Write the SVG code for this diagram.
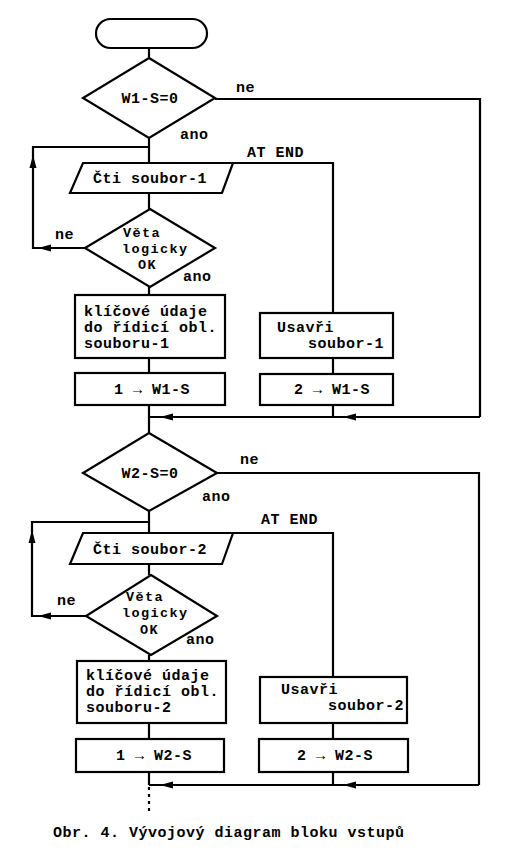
<svg xmlns="http://www.w3.org/2000/svg" xmlns:xlink="http://www.w3.org/1999/xlink" width="514" height="862" viewBox="0 0 514 862">
<style>
.s{fill:#fff;stroke:#000;stroke-width:2.2;stroke-linejoin:miter}
.c{fill:none;stroke:#000;stroke-width:2.2}
.d{fill:none;stroke:#000;stroke-width:2.2;stroke-dasharray:3,4}
text{font-family:"Liberation Mono","DejaVu Sans Mono",monospace;font-weight:bold;font-size:15px;letter-spacing:0.5px;fill:#000}
.m{text-anchor:middle}
.k{font-size:13.5px;letter-spacing:1.4px}
</style>
<defs>
<path id="ah" d="M0,0 L13,-3.5 L13,3.5 Z" fill="#000"/>
</defs>
<rect width="514" height="862" fill="#fff"/>
<g id="connectors">
<path class="c" d="M149,48 V58"/>
<path class="c" d="M149,138 V163"/>
<path class="c" d="M215,99 H480 V417"/>
<path class="c" d="M149,147 H33 V248 H85"/>
<path class="c" d="M233,163 H333 V313"/>
<path class="c" d="M149,193 V209"/>
<path class="c" d="M149,287 V295"/>
<path class="c" d="M149,358 V373"/>
<path class="c" d="M333,358 V374"/>
<path class="c" d="M149,405 V433"/>
<path class="c" d="M333,405 V417"/>
<path class="c" d="M149,417 H480"/>
<use xlink:href="#ah" x="160" y="417"/>
<use xlink:href="#ah" x="343" y="417"/>
<use xlink:href="#ah" transform="translate(33,155) rotate(90)"/>
<use xlink:href="#ah" x="38" y="248"/>
<path class="c" d="M217,473 H479 V785"/>
<path class="c" d="M149,511 V533"/>
<path class="c" d="M149,522 H32 V616 H86"/>
<path class="c" d="M233,533 H333 V677"/>
<path class="c" d="M149,564 V575"/>
<path class="c" d="M149,655 V661"/>
<path class="c" d="M149,723 V739"/>
<path class="c" d="M333,723 V739"/>
<path class="c" d="M149,772 V785"/>
<path class="c" d="M333,772 V785"/>
<path class="c" d="M149,785 H479"/>
<use xlink:href="#ah" x="160" y="785"/>
<use xlink:href="#ah" x="343" y="785"/>
<use xlink:href="#ah" transform="translate(32,530) rotate(90)"/>
<use xlink:href="#ah" x="38" y="616"/>
<path class="d" d="M149,787 V814"/>
</g>
<g id="start"><rect class="s" x="96" y="19" width="111" height="29" rx="14.5"/></g>
<g id="dec1"><polygon class="s" points="149,58 215,98 149,138 83,98"/><text class="m" x="150" y="103">W1-S=0</text></g>
<text x="236" y="92">ne</text>
<text x="180" y="139">ano</text>
<text x="247" y="157">AT END</text>
<g id="read1"><polygon class="s" points="83,163 233,163 222,193 70,193"/><text x="93" y="183">Čti soubor-1</text></g>
<g id="dec2"><polygon class="s" points="150,209 215,248 150,287 85,248"/><text class="k" x="123" y="237">Věta</text><text class="k" x="122" y="253">logicky</text><text class="k" x="138" y="269">OK</text></g>
<text x="55" y="239">ne</text>
<text x="183" y="281">ano</text>
<g id="key1"><rect class="s" x="75" y="295" width="150" height="63"/><text x="84" y="316">klíčové údaje</text><text x="84" y="332">do řídicí obl.</text><text x="84" y="348">souboru-1</text></g>
<g id="set11"><rect class="s" x="75" y="373" width="150" height="32"/><text x="114" y="394">1 → W1-S</text></g>
<g id="close1"><rect class="s" x="260" y="313" width="133" height="45"/><text x="277" y="332">Usavři</text><text x="308" y="348">soubor-1</text></g>
<g id="set21"><rect class="s" x="260" y="374" width="133" height="31"/><text x="294" y="394">2 → W1-S</text></g>
<g id="dec3"><polygon class="s" points="149,433 217,473 149,511 83,473"/><text class="m" x="150" y="478">W2-S=0</text></g>
<text x="240" y="464">ne</text>
<text x="202" y="501">ano</text>
<text x="261" y="524">AT END</text>
<g id="read2"><polygon class="s" points="83,533 233,533 222,564 70,564"/><text x="93" y="554">Čti soubor-2</text></g>
<g id="dec4"><polygon class="s" points="151,575 217,616 151,655 86,616"/><text class="k" x="126" y="601">Věta</text><text class="k" x="122" y="617">logicky</text><text class="k" x="140" y="634">OK</text></g>
<text x="57" y="605">ne</text>
<text x="186" y="644">ano</text>
<g id="key2"><rect class="s" x="77" y="661" width="149" height="62"/><text x="86" y="680">klíčové údaje</text><text x="86" y="696">do řídicí obl.</text><text x="86" y="712">souboru-2</text></g>
<g id="set12"><rect class="s" x="76" y="739" width="148" height="33"/><text x="116" y="760">1 → W2-S</text></g>
<g id="close2"><rect class="s" x="260" y="677" width="147" height="46"/><text x="281" y="694">Usavři</text><text x="328" y="710">soubor-2</text></g>
<g id="set22"><rect class="s" x="259" y="739" width="149" height="33"/><text x="297" y="760">2 → W2-S</text></g>
<text x="53" y="837">Obr. 4. Vývojový diagram bloku vstupů</text>
</svg>
